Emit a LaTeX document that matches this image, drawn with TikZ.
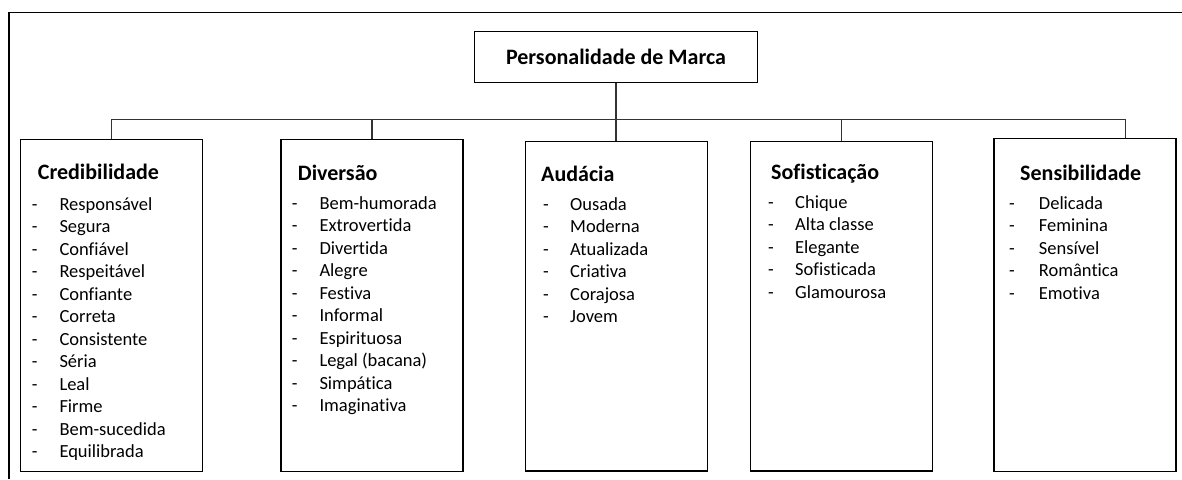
\documentclass[tikz,border=0pt]{standalone}
\usepackage{fontspec}
\setmainfont{Carlito}[Ligatures={TeX,NoCommon}]
\begin{document}
\begin{tikzpicture}[x=1pt, y=-1pt,
    box/.style={draw, line width=1.2pt, minimum width=182pt, inner sep=0pt},
    link/.style={draw=black!80, line width=1.1pt},
    head/.style={font=\fontsize{22}{26}\selectfont\bfseries, anchor=base west, inner sep=0pt},
    item/.style={font=\fontsize{18.5}{22.5}\selectfont, anchor=base west, inner sep=0pt}]
        \useasboundingbox (0,0) rectangle (1182,479);

        % Outer frame (cut off)
        \draw[line width=1.2pt] (9,479) -- (9,12.5) -- (1182,12.5);

        % --- TOP BOX ---
        \node[draw, line width=1.2pt, minimum width=283.7pt, minimum height=51.2pt,
              font=\fontsize{22}{26}\selectfont\bfseries] (brand) at (616,57) {Personalidade de Marca};

        % --- BOX 1 (Credibilidade) ---
        \node[box, minimum height=332pt] (cred) at (111.3,305.3) {};
        \node[head] (cred-t) at (37.7,179.3) {Credibilidade};
        \foreach \w [count=\i from 0] in {Responsável, Segura, Confiável, Respeitável, Confiante,
            Correta, Consistente, Séria, Leal, Firme, Bem-sucedida, Equilibrada} {
            \node[item] (cred-d\i) at (31.7,{210+22.5*\i}) {-};
            \node[item] (cred-\i) at (59.3,{210+22.5*\i}) {\w};
        }

        % --- BOX 2 (Diversão) ---
        \node[box, minimum height=332pt] (div) at (372,305.3) {};
        \node[head] (div-t) at (297.7,180) {Diversão};
        \foreach \w [count=\i from 0] in {Bem-humorada, Extrovertida, Divertida, Alegre, Festiva,
            Informal, Espirituosa, Legal (bacana), Simpática, Imaginativa} {
            \node[item] (div-d\i) at (291.7,{209+22.5*\i}) {-};
            \node[item] (div-\i) at (319.3,{209+22.5*\i}) {\w};
        }

        % --- BOX 3 (Audácia) ---
        \node[box, minimum height=329.7pt] (aud) at (616.7,306.2) {};
        \node[head] (aud-t) at (541,181) {Audácia};
        \foreach \w [count=\i from 0] in {Ousada, Moderna, Atualizada, Criativa, Corajosa, Jovem} {
            \node[item] (aud-d\i) at (543,{210+22.5*\i}) {-};
            \node[item] (aud-\i) at (570,{210+22.5*\i}) {\w};
        }

        % --- BOX 4 (Sofisticação) ---
        \node[box, minimum height=329.7pt] (sof) at (841.8,306.2) {};
        \node[head] (sof-t) at (771,179.3) {Sofisticação};
        \foreach \w [count=\i from 0] in {Chique, Alta classe, Elegante, Sofisticada, Glamourosa} {
            \node[item] (sof-d\i) at (768,{208.3+22.5*\i}) {-};
            \node[item] (sof-\i) at (795,{208.3+22.5*\i}) {\w};
        }

        % --- BOX 5 (Sensibilidade) ---
        \node[box, minimum height=333.4pt] (sen) at (1085,305) {};
        \node[head] (sen-t) at (1020,180) {Sensibilidade};
        \foreach \w [count=\i from 0] in {Delicada, Feminina, Sensível, Romântica, Emotiva} {
            \node[item] (sen-d\i) at (1009,{209+22.5*\i}) {-};
            \node[item] (sen-\i) at (1038.7,{209+22.5*\i}) {\w};
        }

        % Connectors
        \coordinate (busW) at (111.3,119.5);
        \coordinate (busE) at (1125.7,119.5);
        \coordinate (senIn) at (1125.7,138.3);
        \draw[link] (cred.north) -- (busW) -- (busE) -- (senIn);
        \draw[link] (brand.south) -- (brand.south |- aud.north);
        \draw[link] (div.north) -- (div.north |- busW);
        \draw[link] (sof.north) -- (sof.north |- busW);
\end{tikzpicture}
\end{document}
